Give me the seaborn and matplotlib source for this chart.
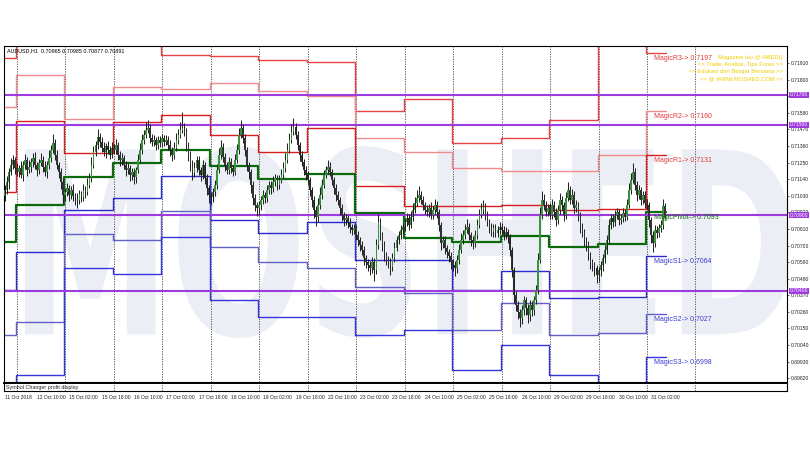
import numpy as np
import matplotlib
matplotlib.use("Agg")
import matplotlib.pyplot as plt
import seaborn as sns
from matplotlib.textpath import TextPath
from matplotlib.patches import PathPatch
from matplotlib.font_manager import FontProperties
from matplotlib.transforms import Affine2D, blended_transform_factory

sns.set_style("white")
plt.rcParams["font.family"] = ["Liberation Sans", "DejaVu Sans"]

# ---- data (prices in points of 1e-5) ----
first_open = 71030
close_pts = [
    71068, 71121, 71187, 71234, 71267, 71214,
    71187, 71214, 71167, 71234, 71267, 71201, 71220, 71254, 71280, 71234, 71201, 71247,
    71267, 71220, 71187, 71234, 71280, 71333, 71380, 71300, 71234, 71187, 71121, 71035,
    71055, 71081, 71035, 71068, 71028, 71015, 71002, 71042, 71022, 71068, 71055, 71101,
    71147, 71234, 71320, 71366, 71419, 71386, 71346, 71320, 71360, 71333, 71300, 71346,
    71333, 71366, 71300, 71267, 71280, 71234, 71201, 71214, 71167, 71187, 71154, 71201,
    71267, 71333, 71399, 71433, 71466, 71479, 71413, 71386, 71399, 71366, 71399, 71380,
    71413, 71386, 71399, 71366, 71333, 71300, 71346, 71399, 71433, 71466, 71479, 71452,
    71366, 71300, 71234, 71181, 71214, 71267, 71201, 71167, 71234, 71147, 71081, 71035,
    71022, 71055, 71101, 71201, 71300, 71353, 71287, 71234, 71201, 71254, 71214, 71187,
    71267, 71333, 71433, 71479, 71413, 71333, 71234, 71187, 71101, 71015, 70969, 70949,
    70969, 71002, 71035, 71015, 71068, 71101, 71081, 71121, 71147, 71101, 71134, 71167,
    71214, 71267, 71333, 71399, 71452, 71486, 71433, 71366, 71300, 71254, 71201, 71167,
    71134, 71068, 71002, 70935, 70889, 70969, 71035, 71101, 71167, 71201, 71220, 71187,
    71134, 71081, 71035, 71002, 70949, 70902, 70869, 70882, 70856, 70823, 70803, 70816,
    70770, 70736, 70703, 70670, 70617, 70591, 70571, 70551, 70591, 70538, 70703, 70856,
    70770, 70703, 70637, 70604, 70591, 70557, 70617, 70683, 70736, 70770, 70803, 70823,
    70856, 70882, 70836, 70889, 70935, 70982, 71015, 71035, 71002, 70969, 70935, 70922,
    70949, 70902, 70935, 70969, 70922, 70836, 70717, 70736, 70683, 70657, 70630, 70591,
    70571, 70551, 70604, 70670, 70736, 70770, 70803, 70823, 70770, 70736, 70717, 70770,
    70836, 70902, 70935, 70955, 70902, 70856, 70816, 70790, 70816, 70783, 70803, 70823,
    70803, 70770, 70790, 70756, 70670, 70538, 70372, 70306, 70259, 70219, 70272, 70339,
    70286, 70239, 70306, 70272, 70339, 70405, 70604, 70902, 71002, 70969, 70922, 70949,
    70902, 70969, 70922, 70869, 70935, 71002, 70969, 70902, 71015, 71068, 71002, 71035,
    70949, 70969, 70902, 70823, 70790, 70736, 70703, 70637, 70591, 70571, 70551, 70504,
    70538, 70571, 70617, 70670, 70736, 70836, 70882, 70856, 70902, 70922, 70869, 70882,
    70916, 70889, 70969, 71068, 71134, 71187, 71101, 71035, 71068, 71002, 71035, 70982,
    70969, 70869, 70770, 70717, 70803, 70783, 70816, 70836, 70965, 70891,
]
upper_wick = [
    30, 42, 25, 48, 35, 22,
    34, 22, 45, 28, 38, 20, 50, 26, 36, 42, 18, 30, 46, 24, 38, 28, 52, 35, 60, 24, 32, 22, 28, 20,
    24, 36, 20, 28, 42, 22, 34, 26, 18, 38, 28, 46, 35, 50, 42, 28, 55, 24, 32, 42, 22, 36, 26, 38,
    30, 42, 22, 28, 36, 20, 26, 34, 18, 24, 28, 22, 38, 46, 42, 34, 50, 55, 28, 24, 36, 22, 30, 26,
    28, 22, 36, 24, 34, 20, 38, 46, 42, 50, 106, 36, 28, 22, 26, 34, 42, 24, 28, 22, 36, 20, 24, 18,
    22, 28, 36, 42, 46, 50, 24, 28, 22, 36, 26, 20, 38, 42, 46, 55, 28, 24, 22, 20, 18, 24, 28, 22,
    28, 24, 34, 22, 36, 26, 30, 38, 28, 22, 34, 40, 42, 46, 50, 46, 55, 62, 28, 24, 22, 26, 20, 24,
    24, 20, 22, 28, 24, 46, 50, 42, 36, 28, 46, 34, 22, 20, 26, 24, 22, 28, 20, 24, 22, 26, 20, 28,
    22, 26, 20, 24, 28, 22, 20, 24, 36, 28, 42, 55, 24, 22, 26, 20, 28, 24, 34, 38, 28, 24, 30, 26,
    28, 36, 24, 42, 46, 38, 50, 62, 28, 24, 22, 34, 26, 38, 28, 42, 24, 20, 22, 28, 24, 20, 22, 26,
    20, 24, 36, 42, 46, 34, 38, 50, 24, 22, 28, 34, 42, 38, 46, 50, 28, 24, 22, 34, 26, 28, 24, 30,
    28, 24, 34, 22, 20, 18, 22, 24, 28, 20, 34, 24, 22, 28, 36, 26, 24, 34, 46, 55, 62, 42, 28, 24,
    34, 42, 28, 24, 36, 46, 28, 22, 42, 55, 28, 38, 24, 34, 22, 20, 24, 22, 20, 24, 22, 20, 18, 22,
    20, 24, 28, 34, 36, 42, 28, 24, 34, 28, 22, 26, 34, 24, 38, 46, 50, 62, 28, 24, 34, 22, 28, 24,
    28, 22, 20, 24, 34, 28, 24, 36, 42, 20,
]
lower_wick = [
    36, 24, 46, 20, 28, 42,
    24, 34, 20, 38, 28, 42, 22, 30, 36, 24, 40, 28, 20, 34, 26, 38, 24, 28, 22, 36, 28, 42, 46, 55,
    42, 28, 38, 24, 36, 46, 50, 28, 34, 24, 38, 22, 20, 24, 22, 28, 24, 34, 28, 24, 38, 26, 28, 22,
    24, 28, 36, 42, 34, 28, 38, 24, 42, 34, 46, 38, 20, 22, 24, 28, 20, 22, 36, 28, 24, 34, 26, 28,
    24, 28, 22, 34, 38, 42, 28, 22, 24, 20, 22, 28, 36, 42, 38, 46, 28, 24, 34, 38, 28, 42, 46, 50,
    55, 36, 28, 24, 22, 28, 34, 38, 28, 24, 34, 28, 22, 20, 24, 22, 36, 42, 38, 46, 50, 46, 42, 50,
    46, 36, 28, 34, 24, 28, 38, 24, 28, 36, 26, 22, 20, 24, 22, 20, 18, 22, 28, 34, 38, 28, 36, 30,
    34, 42, 46, 50, 62, 36, 28, 24, 22, 20, 24, 28, 34, 38, 42, 36, 46, 42, 38, 34, 42, 38, 36, 28,
    34, 38, 42, 36, 46, 42, 38, 46, 34, 70, 28, 24, 34, 38, 42, 34, 38, 50, 28, 24, 22, 26, 24, 28,
    24, 28, 34, 22, 24, 20, 22, 24, 28, 34, 28, 24, 34, 28, 24, 28, 38, 42, 46, 34, 38, 42, 36, 46,
    42, 50, 34, 24, 22, 28, 24, 22, 34, 38, 42, 28, 24, 22, 20, 24, 34, 28, 36, 28, 34, 28, 24, 26,
    28, 34, 24, 38, 42, 46, 50, 42, 46, 62, 38, 36, 46, 50, 42, 38, 36, 28, 24, 22, 28, 34, 28, 24,
    28, 24, 34, 38, 28, 24, 34, 38, 24, 22, 28, 24, 34, 28, 38, 42, 34, 38, 42, 36, 46, 38, 50, 55,
    46, 42, 38, 34, 28, 24, 28, 34, 24, 28, 34, 28, 24, 28, 22, 20, 24, 22, 34, 38, 28, 34, 28, 36,
    34, 46, 55, 60, 28, 34, 28, 24, 28, 14,
]

# daily pivot levels (one value per trading day shown)
r3 = [0.71943, 0.72130, 0.72100, 0.72080, 0.71963, 0.71956, 0.71930, 0.71917,
      0.71592, 0.71671, 0.71380, 0.71413, 0.71532, 0.72100, 0.71976]
r2 = [0.71618, 0.71830, 0.71539, 0.71751, 0.71738, 0.71777, 0.71724, 0.71690,
      0.71413, 0.71320, 0.71214, 0.71194, 0.71194, 0.71300, 0.71592]
r1 = [0.71055, 0.71525, 0.71313, 0.71519, 0.71565, 0.71433, 0.71320, 0.71479,
      0.71094, 0.70962, 0.70962, 0.70969, 0.70935, 0.70942, 0.71300]
pv = [0.70723, 0.70969, 0.71154, 0.71247, 0.71333, 0.71227, 0.71141, 0.71174,
      0.70916, 0.70750, 0.70723, 0.70763, 0.70690, 0.70710, 0.70922]
s1 = [0.70405, 0.70657, 0.70935, 0.71015, 0.71161, 0.70869, 0.70783, 0.70856,
      0.70604, 0.70604, 0.70405, 0.70531, 0.70352, 0.70359, 0.70630]
s2 = [0.70107, 0.70193, 0.70776, 0.70736, 0.70929, 0.70690, 0.70591, 0.70551,
      0.70425, 0.70385, 0.70140, 0.70319, 0.70107, 0.70120, 0.70246]
s3 = [0.69742, 0.69842, 0.70551, 0.70511, 0.70756, 0.70339, 0.70226, 0.70226,
      0.70107, 0.70140, 0.69875, 0.70040, 0.69842, 0.69700, 0.69961]

round_levels = [0.71700, 0.71500, 0.70900, 0.70400]
round_labels = ["0.71700", "0.71500", "0.70900", "0.70400"]

price_ticks = ["0.71910", "0.71800", "0.71690", "0.71580", "0.71470", "0.71360",
               "0.71250", "0.71140", "0.71030", "0.70920", "0.70810", "0.70700",
               "0.70590", "0.70480", "0.70370", "0.70260", "0.70150", "0.70040",
               "0.69930", "0.69820"]
date_labels = ["11 Oct 2018", "12 Oct 10:00", "15 Oct 02:00", "15 Oct 18:00",
               "16 Oct 10:00", "17 Oct 02:00", "17 Oct 18:00", "18 Oct 10:00",
               "19 Oct 02:00", "19 Oct 18:00", "22 Oct 10:00", "23 Oct 02:00",
               "23 Oct 18:00", "24 Oct 10:00", "25 Oct 02:00", "25 Oct 18:00",
               "26 Oct 10:00", "29 Oct 02:00", "29 Oct 18:00", "30 Oct 10:00",
               "31 Oct 02:00"]
level_names = ["MagicR3-> 0.7197", "MagicR2-> 0.7160", "MagicR1-> 0.7131",
               "MagicPivot-> 0.7093", "MagicS1-> 0.7064", "MagicS2-> 0.7027",
               "MagicS3-> 0.6998"]
banner = ["Magazine ulu @ AMED()", "<< Trade, Analize, Tips Forex >>",
          "<< Edukasi dan Belajar Bersama >>", ">> @ WWW.MOSHED.COM <<"]

# ---- prep ----
closes = np.array(close_pts) / 1e5
opens = np.r_[first_open / 1e5, closes[:-1]]
highs = np.maximum(opens, closes) + np.array(upper_wick) / 1e5
lows = np.minimum(opens, closes) - np.array(lower_wick) / 1e5
bars = np.arange(len(closes))
up = closes >= opens

day_starts = 6 + 24 * np.arange(15)
seg_x = np.r_[-1, day_starts[:14] - 0.5, bars[-1] + 0.5]

W, H = 810, 450
fig = plt.figure(figsize=(W / 100, H / 100), dpi=100)
ax = fig.add_axes([4 / W, 1 - 382 / H, 783 / W, 336 / H])
sub = fig.add_axes([4 / W, 1 - 391 / H, 783 / W, 8 / H])

xlim = (-0.3, 387.3)
ylim = (0.69795, 0.72023)

# watermark
tp = TextPath((0, 0), "MOSHED", size=100,
              prop=FontProperties(family="DejaVu Sans", weight="bold"))
ext = tp.get_extents()
x0, x1 = 25 / W, 792 / W
y0, y1 = 1 - 338 / H, 1 - 146 / H
tr = Affine2D().translate(-ext.x0, -ext.y0).scale(
    (x1 - x0) / ext.width, (y1 - y0) / ext.height).translate(x0, y0)
ax.add_patch(PathPatch(tp, transform=tr + fig.transFigure,
                       facecolor="#eceef5", edgecolor="none", zorder=0))

# day separators
for d in day_starts:
    for a in (ax, sub):
        a.axvline(d, color="#444444", lw=0.6, ls=(0, (1.5, 1.5)), zorder=1)

# pivot step lines
styles = [(r3, "#e64444", 1.0), (r2, "#f08c8c", 1.0), (r1, "#d81e1e", 1.0),
          (pv, "#0b6b0b", 1.6),
          (s1, "#2a2ad0", 1.0), (s2, "#6060c8", 1.0), (s3, "#3434e0", 1.0)]
for lv, c, w in styles:
    sns.lineplot(x=seg_x, y=np.r_[lv, lv[-1]], drawstyle="steps-post",
                 color=c, linewidth=w, ax=ax, legend=False,
                 estimator=None, errorbar=None, zorder=2)

# round-number lines
for lv in round_levels:
    ax.axhline(lv, color="#9d3ae0", lw=1.5, zorder=2.2)

# candles
ax.vlines(bars, lows, highs, color="#1c1c1c", lw=0.7, zorder=3)
ax.bar(bars, np.maximum(np.abs(closes - opens), 0.00003),
       bottom=np.minimum(opens, closes), width=0.8,
       color=np.where(up, "#3c923c", "#333333"), edgecolor="none", zorder=4)

# level labels on the current day
lab_cols = ["#e23a3a", "#e23a3a", "#e23a3a", "#0b6b0b", "#3a3ad0", "#3a3ad0", "#3a3ad0"]
for name, lv, c in zip(level_names, [r3, r2, r1, pv, s1, s2, s3], lab_cols):
    ax.annotate(name, (bars[-1] - 5.5, lv[-1]), xytext=(0, -1.5),
                textcoords="offset points", va="top", ha="left",
                fontsize=5, color=c, zorder=6)

ax.set_xlim(xlim)
ax.set_ylim(ylim)
ax.set_xticks([])
ax.yaxis.tick_right()
ax.set_yticks([float(t) for t in price_ticks])
ax.set_yticklabels(price_ticks)
ax.tick_params(axis="y", labelsize=3.6, length=1.5, width=0.5, pad=1, colors="#222222")
ax.set_xlabel("")
ax.set_ylabel("")
for s in ax.spines.values():
    s.set_color("black")
    s.set_linewidth(0.8)

# purple price boxes on the axis
btr = blended_transform_factory(ax.transAxes, ax.transData)
for lv, t in zip(round_levels, round_labels):
    ax.text(1.0035, lv, t, transform=btr, fontsize=3.6, color="white",
            va="center", ha="left", clip_on=False, zorder=7,
            bbox=dict(boxstyle="square,pad=0.12", fc="#9d3ae0", ec="none"))

# texts
fig.text(7 / W, 1 - 51 / H, "AUDUSD,H1  0.70965 0.70985 0.70877 0.70891",
         fontsize=3.9, color="black", va="center")
for i, line in enumerate(banner):
    fig.text(783 / W, 1 - (57 + 7.3 * i) / H, line, fontsize=4.2,
             color="#f0cc00", ha="right", va="center")

# sub window
sub.set_xlim(xlim)
sub.set_yticks([])
sub.set_xticks(np.arange(len(date_labels)) * 16)
sub.set_xticklabels(date_labels, ha="left")
sub.tick_params(axis="x", labelsize=3.6, length=2, width=0.5, pad=1, colors="#222222")
for s in sub.spines.values():
    s.set_color("black")
    s.set_linewidth(0.8)
sub.spines["top"].set_linewidth(1.4)
sub.text(0.003, 0.5, "Symbol Changer profit display", transform=sub.transAxes,
         fontsize=3.9, va="center", ha="left")

fig.savefig("out.png", dpi=100)
